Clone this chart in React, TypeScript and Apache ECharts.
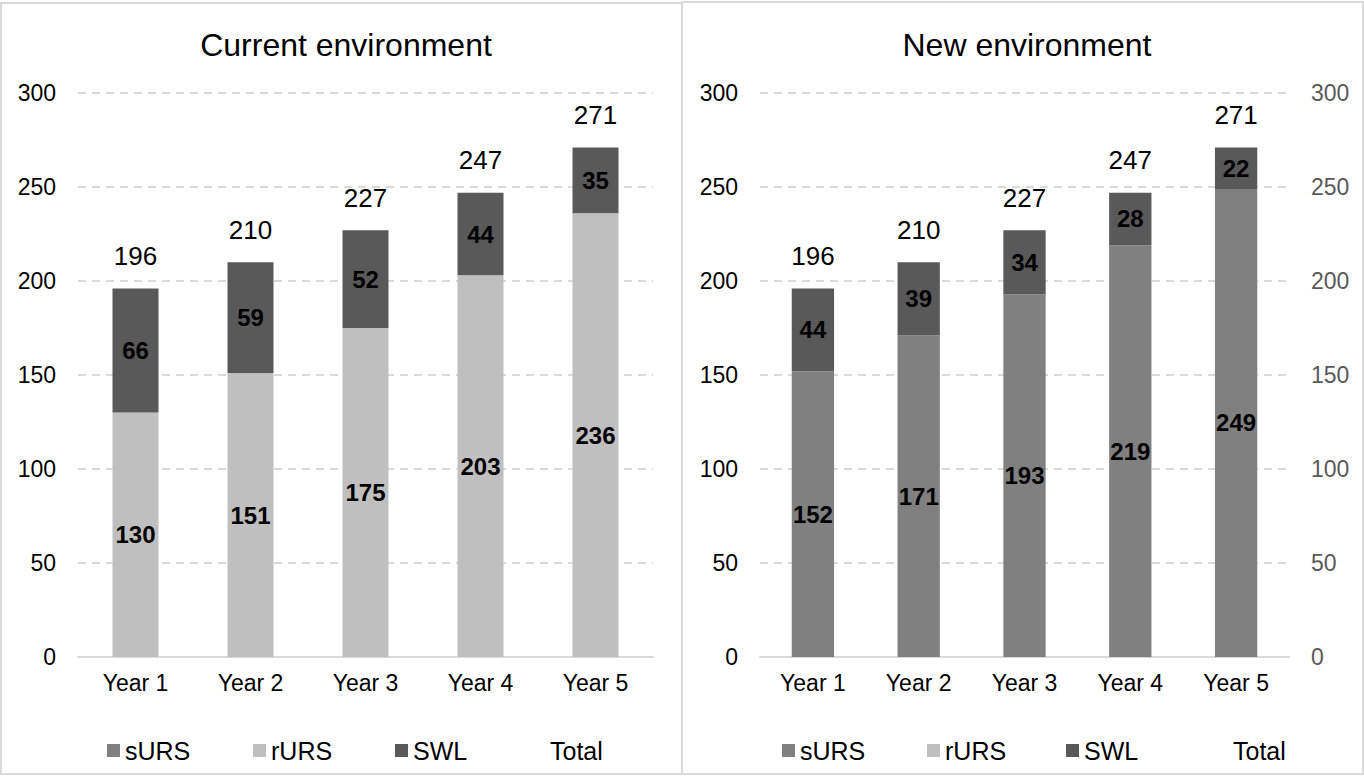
import React, { useEffect, useRef } from "react";
import * as echarts from "echarts";

const categories = ["Year 1", "Year 2", "Year 3", "Year 4", "Year 5"];
const seriesNames = ["sURS", "rURS", "SWL", "Total"];

// Current environment
const curRURS = [130, 151, 175, 203, 236];
const curSWL = [66, 59, 52, 44, 35];
const curTotal = [196, 210, 227, 247, 271];

// New environment
const newSURS = [152, 171, 193, 219, 249];
const newSWL = [44, 39, 34, 28, 22];
const newTotal = [196, 210, 227, 247, 271];

const yTicks = { min: 0, max: 300, interval: 50 };
const titles = ["Current environment", "New environment"];

const FONT = "'Liberation Sans', Arial, Helvetica, sans-serif";
const COLORS: Record<string, string> = {
  sURS: "#808080",
  rURS: "#bfbfbf",
  SWL: "#595959",
};

export default function App() {
  const ref = useRef<HTMLDivElement>(null);

  useEffect(() => {
    if (!ref.current) return;
    const chart = echarts.init(ref.current, undefined, { renderer: "svg" });

    const innerLabel = {
      show: true,
      position: "inside",
      color: "#000",
      fontWeight: "bold",
      fontSize: 24,
      fontFamily: FONT,
    };
    const totalLabel = {
      show: true,
      position: "top",
      distance: 19,
      color: "#000",
      fontSize: 26,
      fontFamily: FONT,
    };

    const barSeries = (
      name: string,
      data: (number | null)[],
      grid: number,
      stack: string
    ) => ({
      type: "bar",
      name,
      data,
      xAxisIndex: grid,
      yAxisIndex: grid,
      stack,
      barWidth: "40%",
      itemStyle: { color: COLORS[name] },
      label: innerLabel,
    });

    const totalSeries = (data: number[], grid: number) => ({
      type: "line",
      name: "Total",
      data,
      xAxisIndex: grid,
      yAxisIndex: grid,
      symbol: "circle",
      symbolSize: 1,
      itemStyle: { color: "rgba(0,0,0,0)" },
      lineStyle: { color: "rgba(0,0,0,0)", width: 0 },
      label: totalLabel,
      z: 5,
    });

    const xAxis = (grid: number) => ({
      type: "category",
      gridIndex: grid,
      data: categories,
      axisLine: { lineStyle: { color: "#d9d9d9", width: 2 } },
      axisTick: { show: false },
      axisLabel: { color: "#000", fontSize: 23, fontFamily: FONT, margin: 14 },
    });

    const yAxis = (grid: number, position: string, color: string, split: boolean) => ({
      type: "value",
      gridIndex: grid,
      position,
      min: yTicks.min,
      max: yTicks.max,
      interval: yTicks.interval,
      axisLine: { show: false },
      axisTick: { show: false },
      axisLabel: { color, fontSize: 23, fontFamily: FONT, margin: 22 },
      splitLine: {
        show: split,
        lineStyle: { color: "#d9d9d9", width: 2, type: [8, 6] },
      },
    });

    const legendPositions = [
      [107, 253, 395, 532],
      [782, 927, 1066, 1215],
    ];
    const legends: any[] = [];
    legendPositions.forEach((pos) => {
      seriesNames.forEach((name, i) => {
        legends.push({
          left: pos[i],
          top: 738,
          padding: 0,
          itemWidth: 13,
          itemHeight: 13,
          selectedMode: false,
          textStyle: { color: "#000", fontSize: 25, fontFamily: FONT },
          data: [
            name === "Total"
              ? { name, icon: "rect", itemStyle: { color: "rgba(0,0,0,0)", opacity: 0 } }
              : { name, icon: "rect", itemStyle: { color: COLORS[name] } },
          ],
        });
      });
    });

    chart.setOption({
      animation: false,
      textStyle: { fontFamily: FONT },
      title: [
        {
          text: titles[0],
          left: 341,
          top: 24,
          textAlign: "center",
          textStyle: { color: "#000", fontSize: 32, fontWeight: "normal", fontFamily: FONT },
        },
        {
          text: titles[1],
          left: 1022,
          top: 24,
          textAlign: "center",
          textStyle: { color: "#000", fontSize: 32, fontWeight: "normal", fontFamily: FONT },
        },
      ],
      legend: legends,
      grid: [
        { left: 78, right: 711, top: 93, bottom: 119 },
        { left: 760, right: 75, top: 93, bottom: 119 },
      ],
      xAxis: [xAxis(0), xAxis(1)],
      yAxis: [
        yAxis(0, "left", "#000", true),
        yAxis(1, "left", "#000", true),
        { ...yAxis(1, "right", "#595959", false) },
      ],
      series: [
        barSeries("sURS", [], 0, "cur"),
        barSeries("rURS", curRURS, 0, "cur"),
        barSeries("SWL", curSWL, 0, "cur"),
        totalSeries(curTotal, 0),
        barSeries("sURS", newSURS, 1, "new"),
        barSeries("rURS", [], 1, "new"),
        barSeries("SWL", newSWL, 1, "new"),
        totalSeries(newTotal, 1),
      ],
      graphic: [
        {
          type: "rect",
          shape: { x: 1, y: 3, width: 681, height: 771 },
          style: { fill: "none", stroke: "#d9d9d9", lineWidth: 2 },
          silent: true,
        },
        {
          type: "rect",
          shape: { x: 682, y: 2, width: 681, height: 772 },
          style: { fill: "none", stroke: "#d9d9d9", lineWidth: 2 },
          silent: true,
        },
      ],
    });

    return () => chart.dispose();
  }, []);

  return (
    <div
      ref={ref}
      style={{ position: "fixed", left: 0, top: 0, width: 1364, height: 776, background: "#fff" }}
    />
  );
}
